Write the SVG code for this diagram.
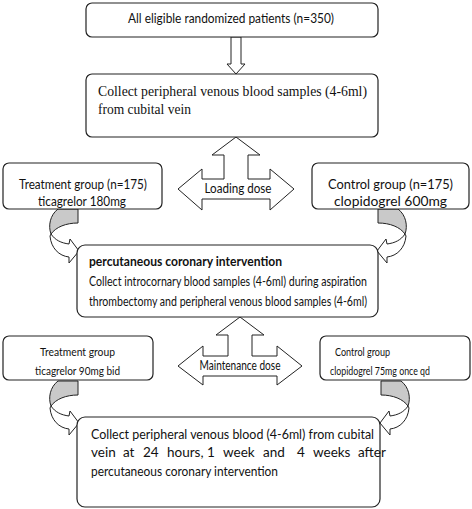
<svg xmlns="http://www.w3.org/2000/svg" width="472" height="509" viewBox="0 0 472 509">
<style>
.box{fill:#fff;stroke:#222;stroke-width:1.2}
.arr{fill:#fff;stroke:#222;stroke-width:1}
.grey{fill:#c9c9c9;stroke:#222;stroke-width:1}
.t{font-family:Lato,"Liberation Sans",sans-serif;font-size:13.5px;fill:#111}
.s{font-family:Lato,"Liberation Sans",sans-serif;font-size:12px;fill:#111}
.sf{font-family:"Liberation Serif",serif;font-size:14px;fill:#111}
.b{font-weight:bold}
</style>
<defs>
<g id="curve">
<path class="arr" d="M51,234 C55,240 61,243 69,244 L70,239 L79,251 L69,263 L69,257 C59,256 51,248 50,236 Z"/>
<path class="grey" d="M58,209 L78,209 L78,223 C66,223 56,227 51,234 C48,226 50,215 58,209 Z"/>
</g>
</defs>
<g id="connectors">
<path class="arr" d="M231,37 L241,37 L241,64 L245,64 L236,74 L227,64 L231,64 Z"/>
<path class="arr" d="M236,137 L260,155 L248,155 L248,179 L270,179 L270,169 L294,189 L270,210 L270,199 L202,199 L202,210 L178,189 L202,169 L202,179 L224,179 L224,155 L212,155 Z"/>
<path class="arr" d="M240,317 L264,335 L252,335 L252,356 L277,356 L277,346 L302,366 L277,385 L277,376 L203,376 L203,385 L178,366 L203,346 L203,356 L228,356 L228,335 L216,335 Z"/>
<use href="#curve"/>
<use href="#curve" transform="matrix(-1,0,0,1,456,0)"/>
<use href="#curve" transform="translate(0,172)"/>
<use href="#curve" transform="matrix(-1,0,0,1,459,172)"/>
</g>
<text class="t" x="238" y="193" text-anchor="middle" textLength="67" lengthAdjust="spacingAndGlyphs">Loading dose</text>
<text class="t" x="240" y="370" text-anchor="middle" textLength="81" lengthAdjust="spacingAndGlyphs">Maintenance dose</text>
<g id="n1">
<rect class="box" x="86" y="3" width="292" height="34" rx="6"/>
<text class="t" x="128" y="23" textLength="206" lengthAdjust="spacingAndGlyphs">All eligible randomized patients (n=350)</text>
</g>
<g id="n2">
<rect class="box" x="86" y="74" width="292" height="63" rx="6"/>
<text class="sf" x="98" y="96" textLength="269" lengthAdjust="spacingAndGlyphs">Collect peripheral venous blood samples (4-6ml)</text>
<text class="sf" x="98" y="114" textLength="93" lengthAdjust="spacingAndGlyphs">from cubital vein</text>
</g>
<g id="n3">
<rect class="box" x="3" y="163" width="159" height="46" rx="6"/>
<text class="t" x="19" y="189" textLength="128" lengthAdjust="spacingAndGlyphs">Treatment group (n=175)</text>
<text class="t" x="38" y="206" textLength="88" lengthAdjust="spacingAndGlyphs">ticagrelor 180mg</text>
</g>
<g id="n4">
<rect class="box" x="312" y="163" width="157" height="46" rx="6"/>
<text class="t" x="328" y="189" textLength="125" lengthAdjust="spacingAndGlyphs">Control group (n=175)</text>
<text class="t" x="334" y="206" textLength="113" lengthAdjust="spacingAndGlyphs">clopidogrel 600mg</text>
</g>
<g id="n5">
<rect class="box" x="77" y="245" width="301" height="72" rx="8"/>
<text class="t b" x="89" y="266" textLength="193" lengthAdjust="spacingAndGlyphs">percutaneous coronary intervention</text>
<text class="t" x="89" y="286" textLength="278" lengthAdjust="spacingAndGlyphs">Collect introcornary blood samples (4-6ml) during aspiration</text>
<text class="t" x="89" y="306" textLength="278" lengthAdjust="spacingAndGlyphs">thrombectomy and peripheral venous blood samples (4-6ml)</text>
</g>
<g id="n6">
<rect class="box" x="3" y="336" width="150" height="44" rx="6"/>
<text class="s" x="40" y="356" textLength="75" lengthAdjust="spacingAndGlyphs">Treatment group</text>
<text class="s" x="35" y="375" textLength="85" lengthAdjust="spacingAndGlyphs">ticagrelor 90mg bid</text>
</g>
<g id="n7">
<rect class="box" x="320" y="336" width="150" height="44" rx="6"/>
<text class="s" x="335" y="356" textLength="55" lengthAdjust="spacingAndGlyphs">Control group</text>
<text class="s" x="330" y="375" textLength="100" lengthAdjust="spacingAndGlyphs">clopidogrel 75mg once qd</text>
</g>
<g id="n8">
<rect class="box" x="77" y="417" width="303" height="90" rx="8"/>
<text class="t" x="91" y="439" textLength="283" lengthAdjust="spacingAndGlyphs">Collect peripheral venous blood (4-6ml) from cubital</text>
<text class="t" y="457"><tspan x="91">vein</tspan><tspan x="123">at</tspan><tspan x="143">24</tspan><tspan x="167">hours,</tspan><tspan x="207">1</tspan><tspan x="223">week</tspan><tspan x="263">and</tspan><tspan x="297">4</tspan><tspan x="313">weeks</tspan><tspan x="358">after</tspan></text>
<text class="t" x="91" y="476" textLength="187" lengthAdjust="spacingAndGlyphs">percutaneous coronary intervention</text>
</g>
</svg>
